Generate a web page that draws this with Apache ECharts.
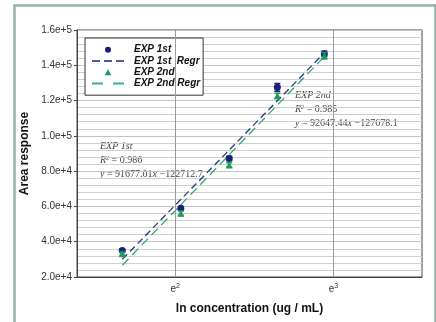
<!DOCTYPE html>
<html>
<head>
<meta charset="utf-8">
<script src="https://cdn.jsdelivr.net/npm/echarts@6/dist/echarts.min.js"></script>
<style>
  html, body { margin: 0; padding: 0; background: #ffffff; }
  #chart { width: 436px; height: 322px; }
</style>
</head>
<body>
<div id="chart"></div>
<script>
// ln(concentration) of each standard level
const lnConc = [1.666, 2.036, 2.342, 2.646, 2.943];
// first experiment: mean area response and error
const exp1 = [35000, 58900, 87200, 127500, 146500];
const exp1Err = [900, 1000, 1200, 2200, 1500];
// second experiment: mean area response and error
const exp2 = [33200, 56100, 83500, 122700, 145400];
const exp2Err = [900, 1300, 1200, 1500, 1800];
// linear regression coefficients: [EXP 1st, EXP 2nd]
const regrSlope = [91677.01, 92647.44];
const regrIntercept = [-122712.7, -127678.1];
const regrR2 = [0.986, 0.985];
// x tick positions (powers of e)
const xTickPowers = [2, 3];

const navy = '#1c1f7a';
const navyLine = '#2f3385';
const green = '#1d9b5c';
const greenLine = '#36a870';

// legend glyphs: dashed strokes and a small triangle
const dash3 = 'path://M0,0h8v2h-8z M12,0h8v2h-8z M24,0h8v2h-8z';
const dash2 = 'path://M0,0h11v2h-11z M21,0h11v2h-11z';
const tri = 'path://M5,0L10,9L0,9Z';

function regrLine(i) {
  const x0 = Math.min(...lnConc), x1 = Math.max(...lnConc);
  return [x0, x1].map(x => [x, regrSlope[i] * x + regrIntercept[i]]);
}

function errData(ys, errs) {
  return lnConc.map((x, i) => [x, ys[i] - errs[i], ys[i] + errs[i]]);
}

function errRender(color) {
  return function (params, api) {
    const x = api.value(0);
    const lo = api.coord([x, api.value(1)]);
    const hi = api.coord([x, api.value(2)]);
    const w = 3;
    const style = { stroke: color, lineWidth: 1.5 };
    return {
      type: 'group',
      children: [
        { type: 'line', shape: { x1: lo[0], y1: lo[1], x2: hi[0], y2: hi[1] }, style },
        { type: 'line', shape: { x1: lo[0] - w, y1: lo[1], x2: lo[0] + w, y2: lo[1] }, style },
        { type: 'line', shape: { x1: hi[0] - w, y1: hi[1], x2: hi[0] + w, y2: hi[1] }, style }
      ]
    };
  };
}

function eqText(i) {
  const b = Math.abs(regrIntercept[i]);
  return '{i|y} = ' + regrSlope[i].toFixed(2) + '{i|x} \u2212' + b.toFixed(1);
}

const serif = '"Liberation Serif", "DejaVu Serif", serif';
const annoRich = {
  i: { fontFamily: serif, fontStyle: 'italic', fontSize: 10, fill: '#444' },
  sup: { fontFamily: serif, fontStyle: 'italic', fontSize: 6, fill: '#444', verticalAlign: 'top', padding: [0, 0, 5, 0] }
};

function annotation(left, top, label, i) {
  return [
    { type: 'text', left: left, top: top, style: { text: label, font: 'italic 10px ' + serif, fill: '#444' } },
    { type: 'text', left: left, top: top + 14, style: { text: '{i|R}{sup|2} = ' + regrR2[i].toFixed(3), rich: annoRich, font: '10px ' + serif, fill: '#444' } },
    { type: 'text', left: left, top: top + 28, style: { text: eqText(i), rich: annoRich, font: '10px ' + serif, fill: '#444' } }
  ];
}

const chart = echarts.init(document.getElementById('chart'));
chart.setOption({
  animation: false,
  backgroundColor: '#ffffff',
  textStyle: { fontFamily: '"Liberation Sans", Arial, sans-serif' },
  grid: { left: 77, right: 14, top: 30, bottom: 45, show: true, borderColor: '#444', borderWidth: 1, backgroundColor: 'transparent' },
  legend: {
    data: [
      { name: 'EXP 1st', icon: 'circle', itemStyle: { color: navy } },
      { name: 'EXP 1st  Regr', icon: dash3, itemStyle: { color: '#5555a5' } },
      { name: 'EXP 2nd', icon: tri, itemStyle: { color: green } },
      { name: 'EXP 2nd Regr', icon: dash2, itemStyle: { color: '#3fb07a' } }
    ],
    orient: 'vertical',
    left: 85,
    top: 38,
    itemWidth: 32,
    itemHeight: 6,
    itemGap: 0,
    symbolKeepAspect: true,
    padding: [6, 3, 6, 7],
    backgroundColor: '#ffffff',
    borderColor: '#333',
    borderWidth: 1,
    borderRadius: 0,
    textStyle: { fontSize: 10, fontWeight: 'bold', fontStyle: 'italic', color: '#111', lineHeight: 11.3, padding: [0, 0, 0, 5] }
  },
  xAxis: {
    type: 'value',
    min: 1.38,
    max: 3.56,
    name: 'ln concentration (ug / mL)',
    nameLocation: 'middle',
    nameGap: 26,
    nameTextStyle: { fontSize: 12, fontWeight: 'bold', color: '#111' },
    axisLine: { show: true, lineStyle: { color: '#444' } },
    axisTick: { show: true, inside: true, length: 3, customValues: xTickPowers, lineStyle: { color: '#444' } },
    axisLabel: {
      customValues: xTickPowers,
      formatter: v => '{b|e}{s|' + v + '}',
      margin: 6,
      rich: {
        b: { fontSize: 10, color: '#333' },
        s: { fontSize: 7, color: '#333', verticalAlign: 'top', padding: [0, 0, 6, 0] }
      }
    },
    splitLine: { show: false }
  },
  yAxis: {
    type: 'value',
    min: 20000,
    max: 160000,
    interval: 20000,
    name: 'Area response',
    nameLocation: 'middle',
    nameGap: 36,
    nameTextStyle: { fontSize: 12, fontWeight: 'bold', color: '#111' },
    axisLine: { show: true, lineStyle: { color: '#444' } },
    axisTick: { show: true, length: 3, lineStyle: { color: '#444' } },
    axisLabel: { fontSize: 10, color: '#333', margin: 5, formatter: v => v.toExponential(1) },
    splitLine: { show: true, lineStyle: { color: '#c4c4c4', width: 1 } },
    minorTick: { show: false, splitNumber: 5 },
    minorSplitLine: { show: true, lineStyle: { color: '#cfcfcf', width: 1 } }
  },
  series: [
    {
      name: 'EXP 1st  Regr',
      type: 'line',
      data: regrLine(0),
      symbol: 'none',
      lineStyle: { color: navyLine, width: 1.3, type: [7, 4] },
      itemStyle: { color: navyLine },
      z: 2,
      markLine: {
        silent: true,
        symbol: 'none',
        label: { show: false },
        lineStyle: { color: '#9a9a9a', width: 1, type: 'solid' },
        data: xTickPowers.map(v => ({ xAxis: v }))
      }
    },
    {
      name: 'EXP 2nd Regr',
      type: 'line',
      data: regrLine(1),
      symbol: 'none',
      lineStyle: { color: greenLine, width: 1.3, type: [9, 5] },
      itemStyle: { color: greenLine },
      z: 2
    },
    {
      name: 'EXP 1st err',
      type: 'custom',
      renderItem: errRender(navy),
      data: errData(exp1, exp1Err),
      encode: { x: 0, y: [1, 2] },
      z: 3
    },
    {
      name: 'EXP 1st',
      type: 'scatter',
      data: lnConc.map((x, i) => [x, exp1[i]]),
      symbol: 'circle',
      symbolSize: 7,
      itemStyle: { color: navy, opacity: 1 },
      z: 4
    },
    {
      name: 'EXP 2nd err',
      type: 'custom',
      renderItem: errRender(green),
      data: errData(exp2, exp2Err),
      encode: { x: 0, y: [1, 2] },
      z: 5
    },
    {
      name: 'EXP 2nd',
      type: 'scatter',
      data: lnConc.map((x, i) => [x, exp2[i]]),
      symbol: 'triangle',
      symbolSize: 7,
      itemStyle: { color: green, opacity: 1 },
      z: 6
    }
  ],
  graphic: [
    {
      type: 'rect',
      left: 12,
      top: 3,
      shape: { width: 421, height: 318 },
      style: { fill: 'none', stroke: '#93b3a8', lineWidth: 2.5 },
      silent: true
    }
  ].concat(annotation(100, 141, 'EXP 1st', 0), annotation(295, 90, 'EXP 2nd', 1))
});
</script>
</body>
</html>
